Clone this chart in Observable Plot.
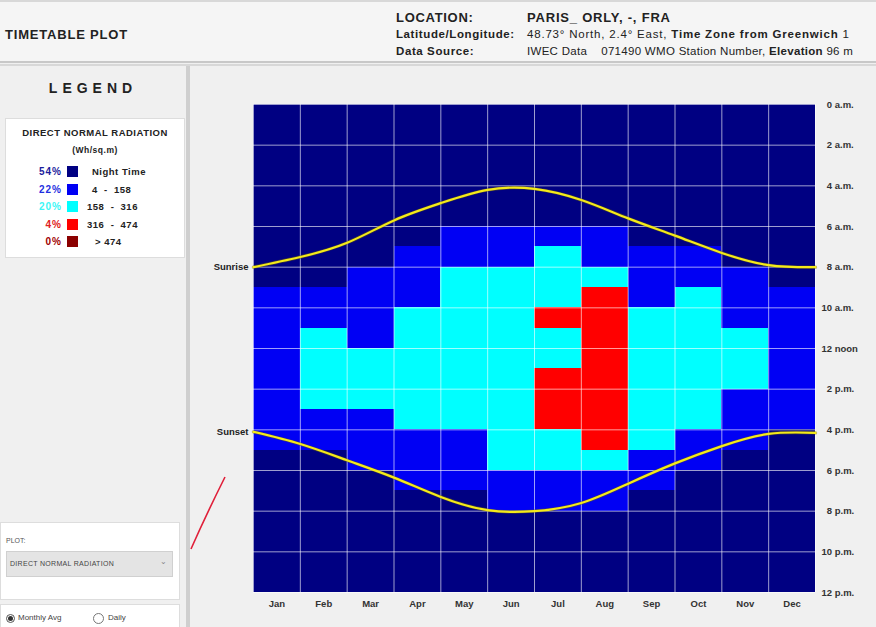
<!DOCTYPE html>
<html>
<head>
<meta charset="utf-8">
<script src="https://cdn.jsdelivr.net/npm/d3@7"></script>
<script src="https://cdn.jsdelivr.net/npm/@observablehq/plot@0.6"></script>
<style>
  html, body { margin: 0; padding: 0; background: #f0f0f0; }
  #page { position: relative; width: 876px; height: 627px; overflow: hidden; background: #f0f0f0;
          font-family: "Liberation Sans", Arial, sans-serif; color: #222; }
  .abs { position: absolute; white-space: nowrap; }
  .hdr { font-size: 13px; font-weight: bold; letter-spacing: 0.7px; }
  .sub { font-size: 11.5px; letter-spacing: 0.6px; }
  #legendbox { position: absolute; left: 5px; top: 118px; width: 180px; height: 140px; background: #fff;
               border: 1px solid #ddd; box-sizing: border-box; }
  .lrow { position: absolute; left: 0; width: 180px; height: 14px; font-size: 9.5px; font-weight: bold; letter-spacing: 0.5px; }
  .lrow .pct { position: absolute; right: 124px; top: 0px; text-align: right; font-size: 10px; letter-spacing: 1px; }
  .lrow .sw { position: absolute; left: 61px; top: 0; width: 11px; height: 11px; }
  .lrow .lab { position: absolute; top: 0px; white-space: pre; }
</style>
</head>
<body>
<div id="page">
  <!-- header -->
  <div class="abs" style="left:0;top:0;width:876px;height:62px;background:#f5f5f5;border-top:2px solid #d8d8d8;box-sizing:border-box;"></div>
  <div class="abs" style="left:0;top:61px;width:876px;height:2px;background:#c8c8c8;"></div>
  <div class="abs" style="left:0;top:64px;width:876px;height:2px;background:#d8d8d8;"></div>
  <div class="abs" style="left:5px;top:27px;font-size:13px;font-weight:bold;letter-spacing:0.8px;">TIMETABLE PLOT</div>
  <div class="abs hdr" style="left:396px;top:10px;">LOCATION:</div>
  <div class="abs hdr" style="left:527px;top:10px;letter-spacing:0.8px;">PARIS_ ORLY, -, FRA</div>
  <div class="abs sub" style="left:396px;top:28px;font-weight:bold;">Latitude/Longitude:</div>
  <div class="abs sub" style="left:527px;top:28px;letter-spacing:0.8px;">48.73° North, 2.4° East, <b>Time Zone from Greenwich</b> 1</div>
  <div class="abs sub" style="left:396px;top:45px;font-weight:bold;">Data Source:</div>
  <div class="abs sub" style="left:527px;top:45px;letter-spacing:0.3px;">IWEC Data &nbsp;&nbsp; 071490 WMO Station Number, <b>Elevation</b> 96 m</div>

  <!-- left panel -->
  <div class="abs" style="left:186px;top:66px;width:4px;height:561px;background:#cfcfcf;"></div>
  <div class="abs" style="left:0;top:80px;width:186px;text-align:center;font-size:14px;font-weight:bold;letter-spacing:5px;">LEGEND</div>
  <div id="legendbox"></div>

  <div class="abs" style="left:0;top:522px;width:180px;height:78px;background:#fff;border:1px solid #ddd;box-sizing:border-box;"></div>
  <div class="abs" style="left:6px;top:537px;font-size:7px;color:#555;">PLOT:</div>
  <div class="abs" style="left:6px;top:551px;width:167px;height:26px;background:#e4e4e4;border:1px solid #d0d0d0;box-sizing:border-box;"></div>
  <div class="abs" style="left:10px;top:560px;font-size:7px;color:#444;letter-spacing:0.3px;">DIRECT NORMAL RADIATION</div>
  <div class="abs" style="left:160px;top:557px;font-size:8px;color:#888;">&#8964;</div>
  <div class="abs" style="left:0;top:604px;width:180px;height:30px;background:#fff;border:1px solid #ddd;box-sizing:border-box;"></div>
  <div class="abs" style="left:6px;top:614px;width:7px;height:7px;border-radius:50%;border:1px solid #555;background:#fff;"></div>
  <div class="abs" style="left:8px;top:616px;width:5px;height:5px;border-radius:50%;background:#333;"></div>
  <div class="abs" style="left:18px;top:613px;font-size:8px;color:#444;">Monthly Avg</div>
  <div class="abs" style="left:93px;top:613px;width:9px;height:9px;border-radius:50%;border:1px solid #777;background:#fff;"></div>
  <div class="abs" style="left:108px;top:613px;font-size:8px;color:#444;">Daily</div>

  <svg class="abs" style="left:186px;top:460px;" width="50" height="100">
    <path d="M5,89 Q20,55 39,17" fill="none" stroke="#e0203a" stroke-width="1.6"/>
  </svg>

  <div id="chart" class="abs" style="left:192px;top:66px;"></div>
</div>

<script>
// ---- data ----
const months = ["Jan", "Feb", "Mar", "Apr", "May", "Jun", "Jul", "Aug", "Sep", "Oct", "Nov", "Dec"];
const hourTicks = [0, 2, 4, 6, 8, 10, 12, 14, 16, 18, 20, 22, 24];
const hourLabels = ["0 a.m.", "2 a.m.", "4 a.m.", "6 a.m.", "8 a.m.", "10 a.m.", "12 noon",
                    "2 p.m.", "4 p.m.", "6 p.m.", "8 p.m.", "10 p.m.", "12 p.m."];
// radiation class per hour (0..23) for each month: 0 night, 1 4-158, 2 158-316, 3 316-474, 4 >474
const hourlyClass = [
  "000000000111111110000000", // Jan
  "000000000112222110000000", // Feb
  "000000001111222111000000", // Mar
  "000000011122222211100000", // Apr
  "000000112222222211100000", // May
  "000000112222222222110000", // Jun
  "000000122232233322110000", // Jul
  "000000112333333332110000", // Aug
  "000000011122222221100000", // Sep
  "000000011222222211000000", // Oct
  "000000001112221110000000", // Nov
  "000000000111111100000000"  // Dec
];
const classNames = ["Night Time", "4  -  158", "158  -  316", "316  -  474", "> 474"];
const classColors = ["#000082", "#0000f4", "#00ffff", "#ff0000", "#8b0000"];
const classShare = ["54%", "22%", "20%", "4%", "0%"];
const shareColors = ["#1c1c9c", "#1f2fe0", "#3cf6f6", "#e02020", "#a00000"];
const labelLeft = [86, 86, 81, 81, 89];
// sun curves, position in months from start of Jan
const curvePos = [0, 1, 2, 3, 4, 5, 6, 7, 8, 9, 10, 11, 12];
const sunrise = [8.0, 7.5, 6.8, 5.7, 4.85, 4.2, 4.15, 4.7, 5.6, 6.45, 7.3, 7.9, 8.0];
const sunset = [16.1, 16.7, 17.5, 18.35, 19.3, 19.95, 20.0, 19.6, 18.65, 17.65, 16.8, 16.2, 16.15];

// ---- legend ----
const lb = document.getElementById("legendbox");
lb.innerHTML =
  '<div style="position:absolute;left:0;top:8px;width:178px;text-align:center;font-size:9.5px;font-weight:bold;letter-spacing:0.5px;">DIRECT NORMAL RADIATION</div>' +
  '<div style="position:absolute;left:0;top:26px;width:178px;text-align:center;font-size:8.5px;font-weight:bold;letter-spacing:0.5px;">(Wh/sq.m)</div>';
classNames.forEach((name, i) => {
  const r = document.createElement("div");
  r.className = "lrow";
  r.style.top = (47 + i * 17.5) + "px";
  r.innerHTML = `<span class="pct" style="color:${shareColors[i]}">${classShare[i]}</span>` +
    `<span class="sw" style="background:${classColors[i]}"></span>` +
    `<span class="lab" style="left:${labelLeft[i]}px">${name}</span>`;
  lb.appendChild(r);
});

// ---- chart ----
const cells = hourlyClass.flatMap((row, m) => Array.from(row, (c, h) => ({m, h, cls: classNames[+c]})));
const riseLine = curvePos.map((x, i) => ({x, y: sunrise[i]}));
const setLine = curvePos.map((x, i) => ({x, y: sunset[i]}));
const colEdges = months.map((_, i) => i).concat([months.length]);
const hourFmt = d => { const s = hourLabels[hourTicks.indexOf(d)]; return (s.split(" ")[0].length === 1 ? "\u2007" : "") + s; };

const chart = Plot.plot({
  width: 684,
  height: 561,
  marginLeft: 61,
  marginRight: 61,
  marginTop: 38,
  marginBottom: 35,
  style: {background: "transparent", fontFamily: "'Liberation Sans', Arial, sans-serif", fontSize: "9.5px", fontWeight: "bold", color: "#333"},
  x: {domain: [0, 12], label: null},
  y: {domain: [0, 24], reverse: true, label: null},
  color: {domain: classNames, range: classColors},
  marks: [
    Plot.rect(cells, {x1: d => d.m, x2: d => d.m + 1, y1: d => d.h, y2: d => d.h + 1, fill: "cls", shapeRendering: "crispEdges"}),
    Plot.ruleX(colEdges, {stroke: "#ffffff", strokeOpacity: 0.62, strokeWidth: 1}),
    Plot.ruleY(hourTicks, {stroke: "#ffffff", strokeOpacity: 0.62, strokeWidth: 1}),
    Plot.line(riseLine, {x: "x", y: "y", curve: "natural", stroke: "#6b6200", strokeWidth: 3.4, strokeOpacity: 0.5}),
    Plot.line(riseLine, {x: "x", y: "y", curve: "natural", stroke: "#f4ea1a", strokeWidth: 2.2}),
    Plot.line(setLine, {x: "x", y: "y", curve: "natural", stroke: "#6b6200", strokeWidth: 3.4, strokeOpacity: 0.5}),
    Plot.line(setLine, {x: "x", y: "y", curve: "natural", stroke: "#f4ea1a", strokeWidth: 2.2}),
    Plot.text([{x: 0, y: sunrise[0], t: "Sunrise"}, {x: 0, y: sunset[0], t: "Sunset"}],
      {x: "x", y: "y", text: "t", textAnchor: "end", dx: -5, fontSize: 9.5, fontWeight: "bold", fill: "#222", style: "letter-spacing:0.5px"}),
    Plot.axisX({anchor: "bottom", ticks: months.map((_, i) => i + 0.5), tickFormat: d => months[Math.floor(d)], tickSize: 0, tickPadding: 8, label: null}),
    Plot.axisY({anchor: "right", ticks: hourTicks, tickSize: 0, tickPadding: 6, label: null, tickFormat: hourFmt})
  ]
});
document.getElementById("chart").appendChild(chart);
</script>
</body>
</html>
